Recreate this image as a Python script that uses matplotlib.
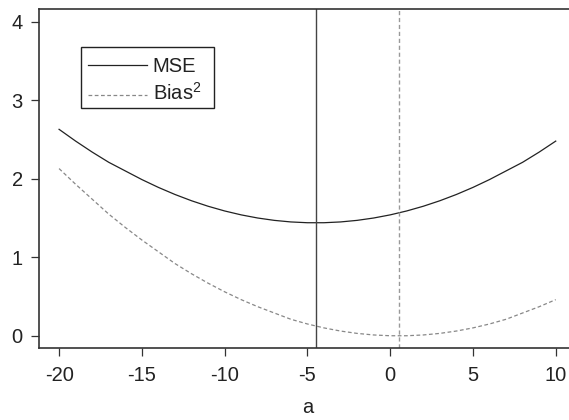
import matplotlib
matplotlib.use("Agg")
import matplotlib.pyplot as plt
from matplotlib.lines import Line2D
from matplotlib.patches import Rectangle

plt.rcParams["font.family"] = ["Liberation Sans", "DejaVu Sans"]
plt.rcParams["mathtext.fontset"] = "custom"
plt.rcParams["mathtext.rm"] = "Liberation Sans"
plt.rcParams["mathtext.it"] = "Liberation Sans"
plt.rcParams["axes.unicode_minus"] = False

# Shift parameter a and the two risk curves
a_values = [-20, -19, -18, -17, -16, -15, -14, -13, -12, -11, -10,
            -9, -8, -7, -6, -5, -4, -3, -2, -1, 0,
            1, 2, 3, 4, 5, 6, 7, 8, 9, 10]
mse = [2.63, 2.48, 2.34, 2.21, 2.10, 1.99, 1.89, 1.80, 1.72, 1.65, 1.59,
       1.54, 1.50, 1.47, 1.45, 1.44, 1.44, 1.45, 1.47, 1.50, 1.54,
       1.59, 1.65, 1.72, 1.80, 1.89, 1.99, 2.10, 2.21, 2.34, 2.48]
bias_sq = [2.13, 1.93, 1.74, 1.55, 1.38, 1.22, 1.07, 0.92, 0.79, 0.67, 0.56,
           0.46, 0.37, 0.29, 0.21, 0.15, 0.10, 0.06, 0.03, 0.01, 0.00,
           0.00, 0.01, 0.03, 0.06, 0.10, 0.15, 0.21, 0.29, 0.37, 0.46]

# Minimisers of MSE and squared bias
mse_min_a = -4.48
bias_min_a = 0.52

x_ticks = [-20, -15, -10, -5, 0, 5, 10]
y_ticks = [0, 1, 2, 3, 4]
series_labels = ["MSE", "Bias$^2$"]

FS = 14.5
W, H = 569, 420

fig = plt.figure(figsize=(W / 100, H / 100), dpi=100)
ax = fig.add_axes([0.0689, 0.1707, 1.0116 - 0.0689, 0.978 - 0.1707])

mse_color = "#222222"
bias_color = "#888888"
mse_style = dict(color=mse_color, lw=0.9)
bias_style = dict(color=bias_color, lw=0.9, linestyle=(0, (3, 2)))

ax.plot(a_values, mse, **mse_style)
ax.plot(a_values, bias_sq, **bias_style)
ax.axvline(mse_min_a, color="#444444", lw=1.0)
ax.axvline(bias_min_a, color="#999999", lw=1.0, linestyle=(0, (3, 2)))

ax.set_xlim(-21.2, 11.2)
ax.set_ylim(-0.16, 4.16)
ax.set_xticks(x_ticks)
ax.set_yticks(y_ticks)
ax.set_xticklabels([str(v) for v in x_ticks])
ax.set_yticklabels([str(v) for v in y_ticks])
ax.tick_params(axis="both", direction="out", length=5.8, width=0.9,
               color="#333333", labelsize=FS, labelcolor="#222222")
ax.tick_params(axis="x", pad=7)
ax.tick_params(axis="y", pad=6)
for s in ax.spines.values():
    s.set_color("#333333")
    s.set_linewidth(1.2)

ax.set_xlabel("a", fontsize=FS, color="#222222", labelpad=9)


# Legend box laid out in figure pixels (origin top-left)
def fx(px):
    return px / W


def fy(py):
    return 1 - py / H


box = Rectangle((fx(80.7), fy(108.3)), fx(214) - fx(80.7), fy(46.7) - fy(108.3),
                transform=fig.transFigure, facecolor="white",
                edgecolor="#222222", lw=1.0, zorder=5)
fig.add_artist(box)
rows = [(64.5, 72.3, mse_style), (95.0, 100.0, bias_style)]
for (line_y, base_y, style), label in zip(rows, series_labels):
    fig.add_artist(Line2D([fx(88.3), fx(147.3)], [fy(line_y), fy(line_y)],
                          transform=fig.transFigure, zorder=6, **style))
    fig.text(fx(152.7), fy(base_y), label, fontsize=FS, color="#222222",
             ha="left", va="baseline", zorder=6)

fig.savefig("out.png", dpi=100)
